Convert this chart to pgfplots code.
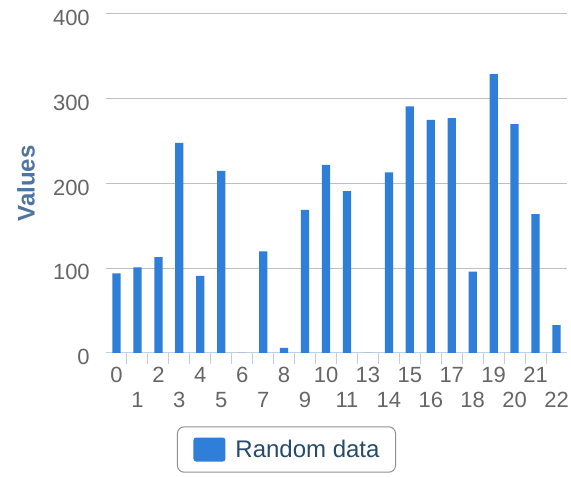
\documentclass[border=0pt]{standalone}
\usepackage{fontspec}
\setmainfont{Liberation Sans}
\usepackage{pgfplots}
\pgfplotsset{compat=1.18}
\definecolor{barblue}{HTML}{2F7ED8}
\definecolor{lbl}{HTML}{666666}
\definecolor{ttl}{HTML}{4D759E}
\definecolor{leg}{HTML}{274B6D}
\definecolor{gridc}{HTML}{C0C0C0}
\definecolor{axc}{HTML}{C0D0E0}

\begin{document}
\begin{tikzpicture}
\begin{axis}[
  scale only axis, width=345.75pt, height=254.25pt,
  ybar, bar width=6.2pt,
  xmin=-0.5, xmax=21.5, ymin=0, ymax=400,
  axis x line*=bottom, axis y line*=left,
  x axis line style={axc, line width=0.75pt},
  y axis line style={draw=none},
  ytick={0,100,...,400}, ymajorgrids,
  major grid style={gridc, line width=0.75pt},
  xtick={0,2,...,20},
  xticklabels={0,2,4,6,8,10,13,15,17,19,21},
  extra x ticks={1,3,...,21},
  extra x tick labels={1,3,5,7,9,11,14,16,18,20,22},
  extra x tick style={major tick length=0pt, tick label style={yshift=-18.75pt}},
  minor xtick={0.5,1.5,...,20.5},
  tick align=outside, major tick length=0pt, minor tick length=8pt,
  tick style={axc, line width=0.75pt},
  /pgf/number format/assume math mode=true,
  tick label style={font=\fontsize{16.5}{19}\selectfont, text=lbl},
  yticklabel style={anchor=east, inner sep=0pt, xshift=-12pt, yshift=-3pt},
  xticklabel style={anchor=north, inner sep=0pt, yshift=-10.5pt},
  ylabel={Values},
  every axis y label/.style={at={(axis description cs:-0.1735,0.5)}, rotate=90, anchor=center},
  ylabel style={font=\fontsize{18}{21}\selectfont\bfseries, text=ttl},
  legend style={at={(0.3915,-0.2847)}, anchor=center, draw={rgb,255:red,144;green,144;blue,144},
    line width=0.75pt, rounded corners=5pt, font=\fontsize{18}{21}\selectfont, text=leg,
    inner xsep=12pt, inner ysep=8pt, nodes={inner sep=0pt}, column sep=7.5pt},
]
\addplot[fill=barblue, draw=none,
  legend image code/.code={\fill[barblue, rounded corners=2pt] (0pt,-9pt) rectangle (24pt,9pt);}]
  coordinates {
  (0,94)(1,101)(2,113)(3,248)(4,91)(5,215)(6,0)(7,120)(8,6)(9,169)(10,222)
  (11,191)(12,0)(13,213)(14,291)(15,275)(16,277)(17,96)(18,329)(19,270)(20,164)(21,33)};
\addlegendentry{Random data}
\end{axis}
\pgfresetboundingbox
\path (current axis.south west) ++(-79.5pt,-93pt) rectangle ++(428.25pt,357.75pt);
\end{tikzpicture}
\end{document}
